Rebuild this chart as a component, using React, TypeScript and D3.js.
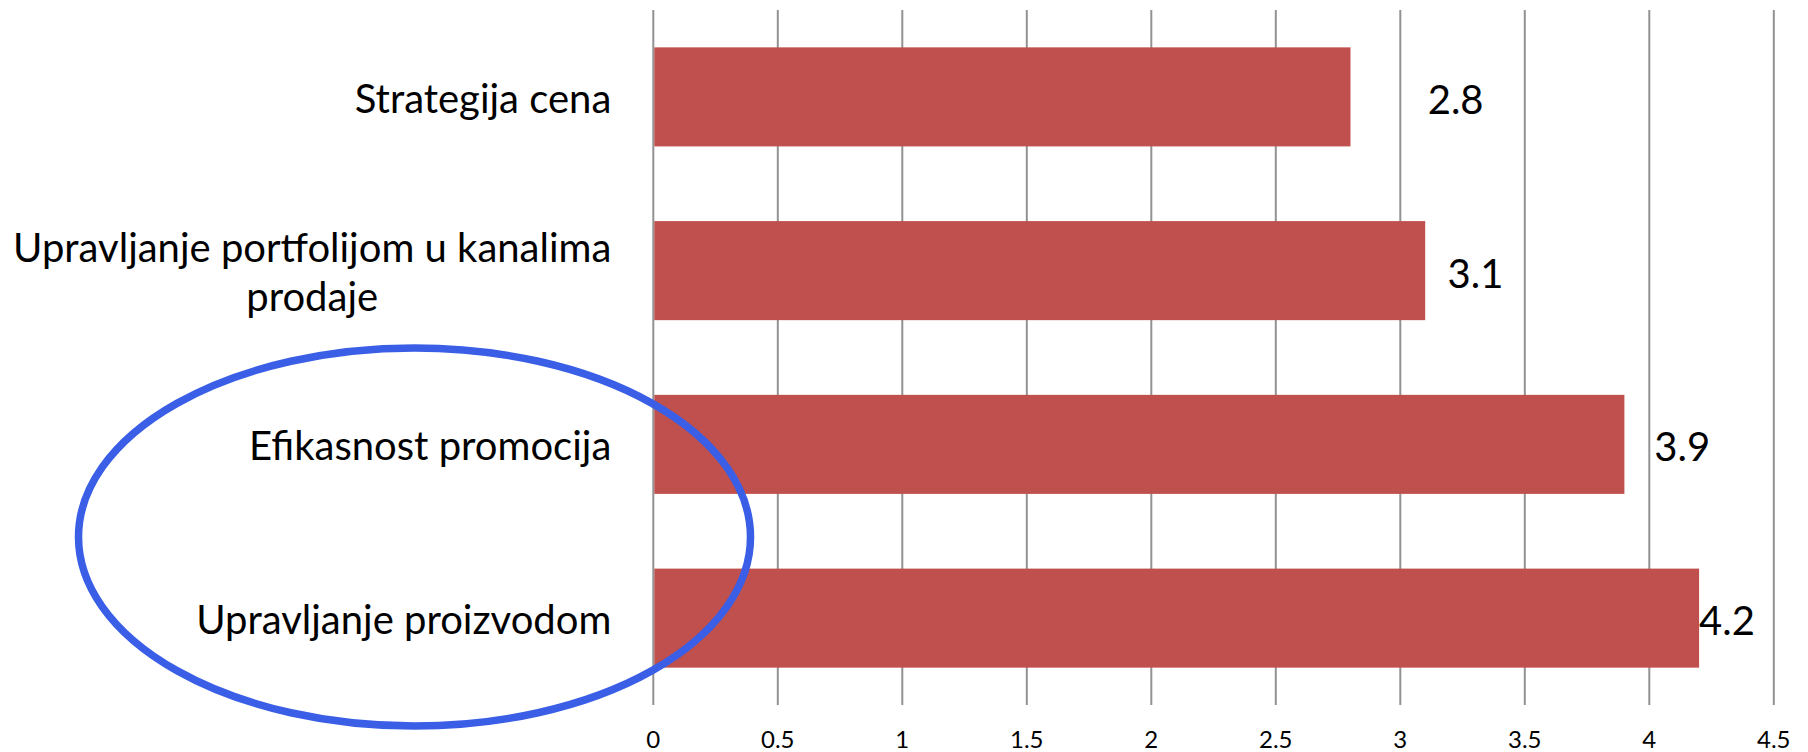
import React, { useEffect, useRef } from "react";
import * as d3 from "d3";

const categories = [
  "Strategija cena",
  "Upravljanje portfolijom u kanalima prodaje",
  "Efikasnost promocija",
  "Upravljanje proizvodom",
];
const categoryLines = [
  ["Strategija cena"],
  ["Upravljanje portfolijom u kanalima", "prodaje"],
  ["Efikasnost promocija"],
  ["Upravljanje proizvodom"],
];
const values = [2.8, 3.1, 3.9, 4.2];
const valueLabels = ["2.8", "3.1", "3.9", "4.2"];
// where each value label starts, in data units (as placed in the original)
const valueLabelAt = [3.11, 3.19, 4.02, 4.2];
const tickValues = [0, 0.5, 1, 1.5, 2, 2.5, 3, 3.5, 4, 4.5];
const tickLabels = ["0", "0.5", "1", "1.5", "2", "2.5", "3", "3.5", "4", "4.5"];

const W = 1808;
const H = 752;
const FONT = "Lato, 'Open Sans', sans-serif";

export default function App() {
  const ref = useRef<SVGSVGElement>(null);

  useEffect(() => {
    const svg = d3.select(ref.current);
    svg.selectAll("*").remove();

    const x = d3.scaleLinear().domain([0, 4.5]).range([653.3, 1773.8]);
    const y = d3
      .scaleBand<string>()
      .domain(categories)
      .range([10, 705])
      .paddingInner(0.43)
      .paddingOuter(0.215);

    // gridlines
    svg
      .append("g")
      .selectAll("line")
      .data(tickValues)
      .join("line")
      .attr("x1", (d) => x(d))
      .attr("x2", (d) => x(d))
      .attr("y1", 10)
      .attr("y2", 705)
      .attr("stroke", "#929292")
      .attr("stroke-width", 2);

    // bars
    svg
      .append("g")
      .selectAll("rect")
      .data(values)
      .join("rect")
      .attr("x", x(0) + 1)
      .attr("y", (_, i) => y(categories[i])!)
      .attr("width", (d) => x(d) - x(0) - 1)
      .attr("height", y.bandwidth())
      .attr("fill", "#c0504d");

    // value labels
    svg
      .append("g")
      .selectAll("text")
      .data(valueLabels)
      .join("text")
      .attr("x", (_, i) => x(valueLabelAt[i]))
      .attr("y", (_, i) => y(categories[i])! + y.bandwidth() / 2 + 2)
      .attr("dominant-baseline", "central")
      .attr("font-family", FONT)
      .attr("font-size", 40)
      .attr("fill", "#000")
      .text((d) => d);

    // tick labels
    svg
      .append("g")
      .selectAll("text")
      .data(tickLabels)
      .join("text")
      .attr("x", (_, i) => x(tickValues[i]))
      .attr("y", 738)
      .attr("text-anchor", "middle")
      .attr("dominant-baseline", "central")
      .attr("font-family", FONT)
      .attr("font-size", 24)
      .attr("fill", "#000")
      .text((d) => d);

    // category labels
    const labelRight = x(0) - 42;
    const lineGap = 49.5;
    categoryLines.forEach((lines, i) => {
      const cy = y(categories[i])! + y.bandwidth() / 2 + 1;
      const g = svg.append("g");
      const first = g
        .append("text")
        .attr("x", labelRight)
        .attr("y", cy - ((lines.length - 1) * lineGap) / 2)
        .attr("text-anchor", "end")
        .attr("dominant-baseline", "central")
        .attr("font-family", FONT)
        .attr("font-size", 40)
        .attr("fill", "#000")
        .text(lines[0]);
      const w = (first.node() as SVGTextElement).getComputedTextLength();
      lines.slice(1).forEach((ln, k) => {
        g.append("text")
          .attr("x", labelRight - w / 2)
          .attr("y", cy - ((lines.length - 1) * lineGap) / 2 + (k + 1) * lineGap)
          .attr("text-anchor", "middle")
          .attr("dominant-baseline", "central")
          .attr("font-family", FONT)
          .attr("font-size", 40)
          .attr("fill", "#000")
          .text(ln);
      });
    });

    // highlight ellipse annotation
    svg
      .append("ellipse")
      .attr("cx", 414.5)
      .attr("cy", 537)
      .attr("rx", 336)
      .attr("ry", 189)
      .attr("fill", "none")
      .attr("stroke", "#3a5fe6")
      .attr("stroke-width", 7.5);
  }, []);

  return (
    <svg
      ref={ref}
      width={W}
      height={H}
      style={{ position: "absolute", left: 0, top: 0, background: "#fff" }}
    />
  );
}
